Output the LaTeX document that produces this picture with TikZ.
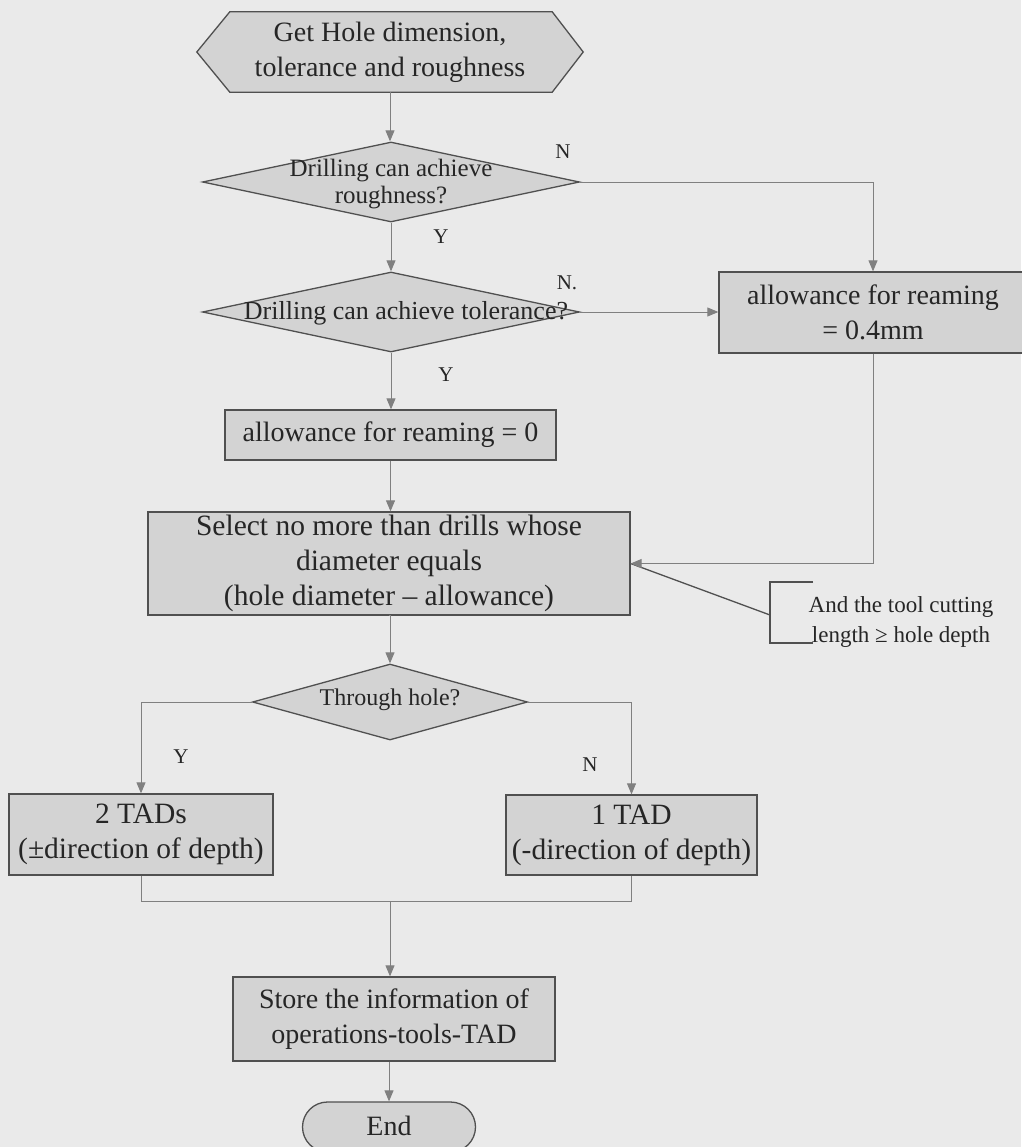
\documentclass[tikz,border=0pt]{standalone}
\usepackage{fontspec}
\setmainfont{Liberation Serif}
\usetikzlibrary{arrows.meta,shapes.geometric,shapes.misc,backgrounds}

\definecolor{paper}{HTML}{EAEAEA}
\definecolor{boxfill}{HTML}{D3D3D3}
\definecolor{edge}{HTML}{505050}
\definecolor{wire}{HTML}{808080}
\definecolor{ink}{HTML}{262626}

\newcommand{\bigtext}{\fontsize{28}{35}\selectfont}
\newcommand{\widetext}{\fontsize{29.5}{35}\selectfont}
\newcommand{\midtext}{\fontsize{25}{27}\selectfont}
\newcommand{\notetext}{\fontsize{23}{30}\selectfont}
\newcommand{\yntext}{\fontsize{21}{24}\selectfont}

\begin{document}
\begin{tikzpicture}[x=1pt,y=-1pt,
  every node/.style={text=ink},
  procbox/.style={rectangle, draw=edge, fill=boxfill, line width=1.3pt,
    inner sep=0pt, align=center, font=\bigtext},
  decision/.style={diamond, draw=edge, fill=boxfill, line width=1.3pt,
    inner sep=0pt},
  decisiontext/.style={inner sep=0pt, align=center},
  flow/.style={draw=wire, line width=0.9pt,
    -{Triangle[length=11pt,width=9pt]}},
  joint/.style={draw=wire, line width=0.9pt},
  yn/.style={font=\yntext, inner sep=0pt}]

\begin{scope}[on background layer]
  \fill[paper] (0,0) rectangle (1021,1147);
\end{scope}
\useasboundingbox (0,0) rectangle (1021,1147);

% start (hexagonal) node
\node[minimum width=386pt, minimum height=80pt, inner sep=0pt, align=center,
  font=\bigtext] (start) at (390,52) {Get Hole dimension,\\tolerance and roughness};
\begin{scope}[on background layer]
  \filldraw[draw=edge, fill=boxfill, line width=1.3pt]
    (start.west) -- ([xshift=33pt]start.north west)
    -- ([xshift=-31pt]start.north east) -- (start.east)
    -- ([xshift=-31pt]start.south east) -- ([xshift=33pt]start.south west)
    -- cycle;
\end{scope}

% decisions on roughness and tolerance
\node[decision, minimum width=377pt, minimum height=80pt] (d1) at (391,182) {};
\node[decisiontext, font=\midtext] (d1t) at (391,184) {Drilling can achieve\\roughness?};
\node[decision, minimum width=377pt, minimum height=80pt] (d2) at (391,312) {};
\node[decisiontext, font=\fontsize{26}{28}\selectfont] (d2t) at (406,313)
  {Drilling can achieve tolerance?};

% reaming allowances
\node[procbox, minimum width=308pt, minimum height=81pt] (r04) at (873,312.5)
  {allowance for reaming\\= 0.4mm};
\node[procbox, minimum width=331pt, minimum height=50pt] (r0) at (390.5,435)
  {allowance for reaming = 0};

% drill selection
\node[procbox, minimum width=482pt, minimum height=103pt, font=\widetext]
  (sel) at (389,563.5)
  {Select no more than drills whose\\diameter equals\\(hole diameter -- allowance)};

% side note
\node[inner sep=0pt, align=center, font=\notetext] (note) at (901,622)
  {And the tool cutting\\length ≥ hole depth};
\coordinate (brtop) at (813,582);
\coordinate (brbot) at (813,643);
\coordinate (brtip) at (770,615);
\draw[edge, line width=1.3pt] (brtop) -- (brtop -| brtip) -- (brbot -| brtip) -- (brbot);
\draw[edge, line width=1.3pt] (brtip) -- (sel.east);

% through hole decision
\node[decision, minimum width=275pt, minimum height=76pt] (d3) at (390,702) {};
\node[decisiontext, font=\fontsize{24}{28}\selectfont] (d3t) at (390,700) {Through hole?};

\node[procbox, minimum width=264pt, minimum height=81pt, font=\widetext]
  (tad2) at (141,834.5) {2 TADs\\(±direction of depth)};
\node[procbox, minimum width=251pt, minimum height=80pt, font=\widetext]
  (tad1) at (631.5,835) {1 TAD\\(-direction of depth)};

\coordinate (merge) at (390,901);

\node[procbox, minimum width=322pt, minimum height=84pt] (store) at (394,1019)
  {Store the information of\\operations-tools-TAD};
\node[rounded rectangle, draw=edge, fill=boxfill, line width=1.3pt,
  minimum width=173pt, minimum height=50pt, inner sep=0pt, font=\bigtext]
  (stop) at (389,1127) {\raisebox{3pt}{End}};

% connectors
\draw[flow] (start.south) -- (start.south |- d1.north);
\draw[flow] (d1.east) -| (r04.north);
\draw[flow] (d1.south) -- (d2.north);
\draw[flow] (d2.east) -- (d2.east -| r04.west);
\draw[flow] (d2.south) -- (d2.south |- r0.north);
\draw[flow] (r0.south) -- (r0.south |- sel.north);
\draw[flow] (r04.south) |- (sel.east);
\draw[flow] (sel.south) -- (sel.south -| d3.north) -- (d3.north);
\draw[flow] (d3.west) -| (tad2.north);
\draw[flow] (d3.east) -| (tad1.north);
\draw[joint] (tad2.south) -- (tad2.south |- merge) -- (tad1.south |- merge) -- (tad1.south);
\draw[flow] (merge) -- (merge |- store.north);
\draw[flow] (stop.north |- store.south) -- (stop.north);

% branch labels
\node[yn] (n1) at (563,152) {N};
\node[yn] (y1) at (441,237) {Y};
\node[yn] (n2) at (567,283) {N.};
\node[yn] (y2) at (446,375) {Y};
\node[yn] (y3) at (181,757) {Y};
\node[yn] (n3) at (590,765) {N};

\end{tikzpicture}
\end{document}
